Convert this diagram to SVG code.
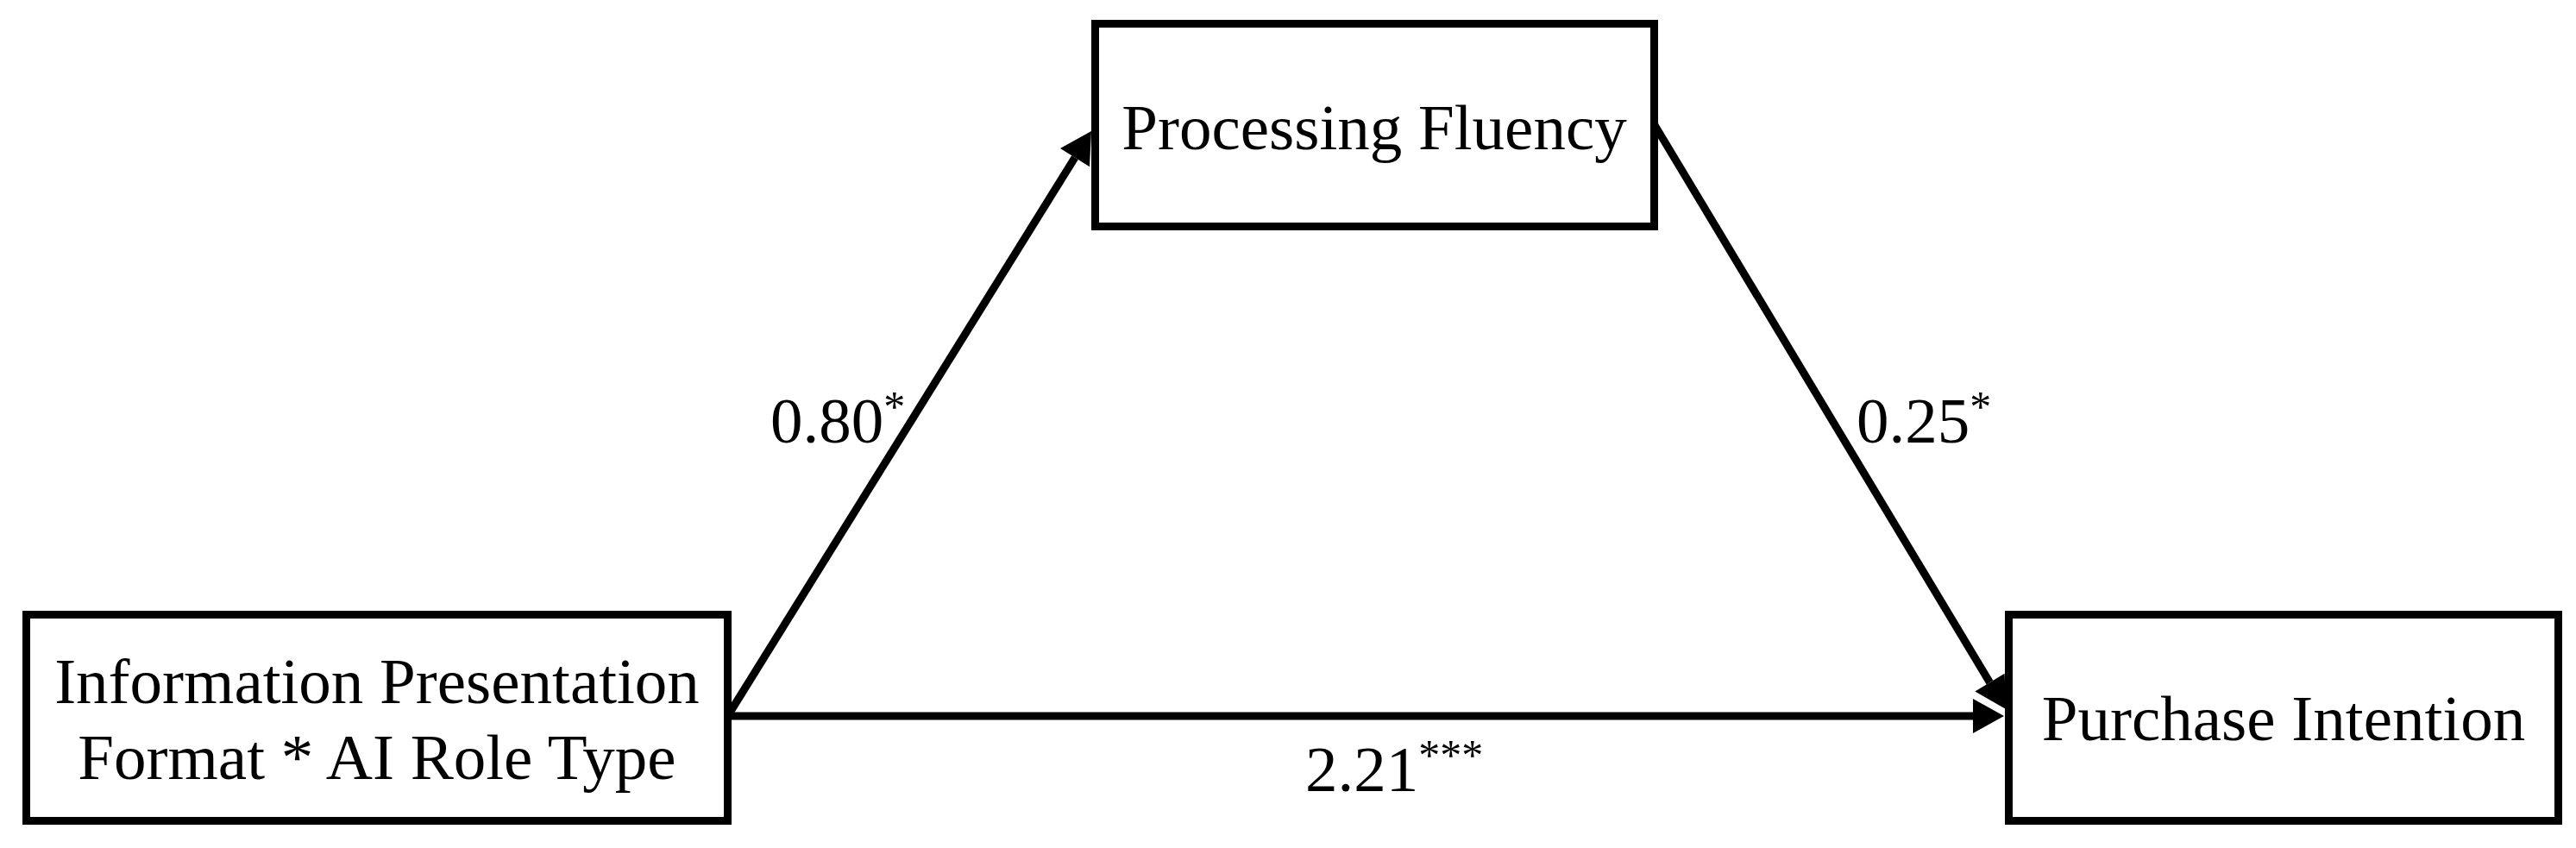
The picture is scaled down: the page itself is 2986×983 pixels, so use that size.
<svg xmlns="http://www.w3.org/2000/svg" width="2986" height="983" viewBox="0 0 2986 983">
<style>
.box{fill:#fff;stroke:#000;stroke-width:9}
.t{font-family:"Liberation Serif","Times New Roman",serif;font-size:75px;fill:#000}
.c{text-anchor:middle}
.sup{font-size:50px}
.edge{stroke:#000;stroke-width:9;fill:none}
</style>
<defs>
<marker id="ah" markerUnits="userSpaceOnUse" markerWidth="36" markerHeight="40" refX="0" refY="20" orient="auto" overflow="visible">
<path d="M0,0 L36,20 L0,40 Z" fill="#000"/>
</marker>
</defs>
<rect width="2986" height="983" fill="#fff"/>
<g id="connectors">
<line class="edge" x1="846" y1="826" x2="1246" y2="182.6" marker-end="url(#ah)"/>
<line class="edge" x1="1918" y1="145" x2="2306.5" y2="791.1" marker-end="url(#ah)"/>
<line class="edge" x1="846" y1="830" x2="2287" y2="830" marker-end="url(#ah)"/>
</g>
<g id="node-ipf">
<rect class="box" x="30.5" y="712.5" width="813" height="239"/>
<text class="t c" x="437" y="815">Information Presentation</text>
<text class="t c" x="437" y="903">Format * AI Role Type</text>
</g>
<g id="node-pf">
<rect class="box" x="1269.5" y="27.5" width="648" height="235"/>
<text class="t c" x="1593" y="173">Processing Fluency</text>
</g>
<g id="node-pi">
<rect class="box" x="2328.5" y="712.5" width="637" height="239"/>
<text class="t c" x="2647" y="858">Purchase Intention</text>
</g>
<g id="labels">
<text class="t" x="893" y="513">0.80<tspan class="sup" dy="-25">*</tspan></text>
<text class="t" x="2152" y="513">0.25<tspan class="sup" dy="-25">*</tspan></text>
<text class="t" x="1513" y="917">2.21<tspan class="sup" dy="-25">***</tspan></text>
</g>
</svg>
